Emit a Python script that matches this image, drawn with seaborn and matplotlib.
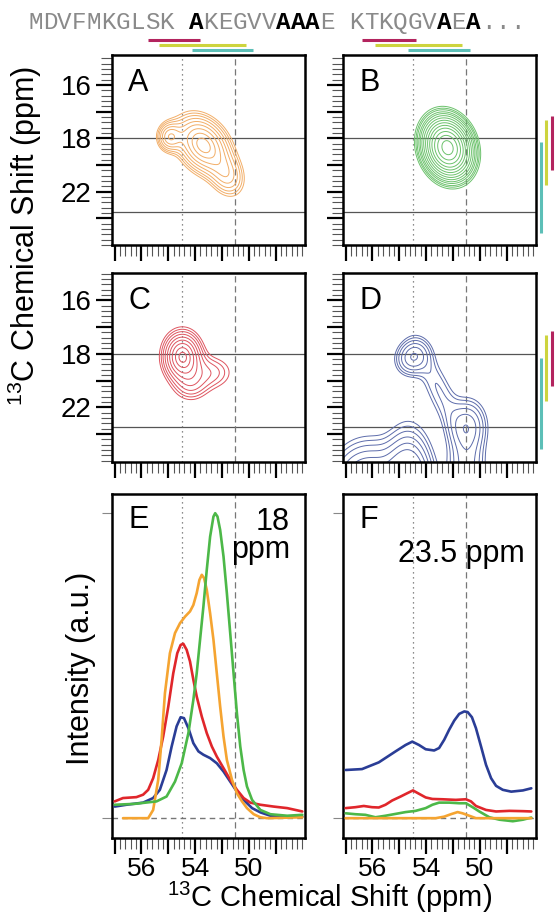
import numpy as np
import pandas as pd
import matplotlib
matplotlib.use('Agg')
import matplotlib.pyplot as plt
import matplotlib.transforms as mtransforms
from matplotlib.lines import Line2D
from matplotlib.ticker import MultipleLocator
import seaborn as sns

# --- sequence shown above the panels ---
sequence = "MDVFMKGLSK AKEGVVAAAE KTKQGVAEA..."
bold_idx = [11, 17, 18, 19, 28, 30]

# coloured bars: under the sequence (character units) and beside B / D (ppm)
bar_keys = ['helix', 'coil', 'sheet']
bar_colors = {'helix': '#b3245e', 'coil': '#cdd43e', 'sheet': '#5cbfb7'}
seq_bars = {'helix': [(8.2, 11.8), (22.9, 26.6)],
            'coil': [(9.0, 14.9), (23.8, 29.7)],
            'sheet': [(11.2, 15.4), (26.0, 30.3)]}
shift_bars = {'helix': (16.3, 20.4), 'coil': (16.6, 21.5), 'sheet': (18.3, 25.1)}

# reference lines
ca_dotted = 55.0
ca_dashed = 51.0
cb_lines = [18.0, 23.5]

# tick labels as printed on the figure
x_major = [60, 58, 56, 54, 52, 50, 48]
x_labels = ['', '56', '', '54', '', '50', '']
y_major = [14, 16, 18, 20, 22, 24]
y_labels = ['16', '', '18', '', '22', '']

# --- 2D spectra: peaks (ca, cb, width ca, width cb, correlation, amplitude) ---
peaks_A = [(53.4, 18.5, 1.15, 1.25, -0.30, 1.00),
           (55.9, 17.9, 0.55, 0.65, 0.00, 0.55),
           (51.6, 20.8, 0.80, 1.00, -0.20, 0.38)]
levels_A = [0.12, 0.16, 0.21, 0.28, 0.37, 0.48, 0.62, 0.78, 0.92]

peaks_B = [(52.4, 18.7, 1.10, 1.38, -0.15, 1.00)]
levels_B = [0.08, 0.10, 0.12, 0.15, 0.18, 0.22, 0.27, 0.33, 0.40, 0.48, 0.57, 0.68, 0.80, 0.93]

peaks_C = [(54.95, 18.2, 0.85, 1.10, 0.00, 1.00),
           (52.8, 19.4, 1.10, 0.85, 0.00, 0.27),
           (54.3, 20.4, 0.85, 0.80, 0.00, 0.26)]
levels_C = [0.13, 0.18, 0.24, 0.32, 0.42, 0.54, 0.68, 0.84, 0.97]

peaks_D = [(55.0, 18.25, 0.75, 0.80, 0.10, 1.00),
           (50.9, 23.4, 0.85, 1.20, 0.00, 0.90),
           (53.0, 20.8, 1.20, 2.30, -0.80, 0.40),
           (51.0, 26.5, 0.90, 1.50, 0.00, 0.60),
           (55.3, 28.5, 1.00, 2.40, 0.00, 2.50),
           (58.3, 28.0, 1.60, 1.90, 0.00, 1.50)]
levels_D = [0.20, 0.28, 0.39, 0.55, 0.77, 1.05]

# --- 1D slices (ppm, normalised intensity) ---
green_E_x = [60.0, 58.5, 56.88, 56.13, 55.5, 55.0, 54.5, 54.13, 53.88, 53.63, 53.38, 53.13, 52.88, 52.63,
             52.5, 52.33, 52.13, 51.88, 51.63, 51.38, 51.13, 50.88, 50.63, 50.38, 50.13, 49.75, 49.13,
             48.38, 47.13, 46.0]
green_E_y = [0.044, 0.047, 0.055, 0.071, 0.120, 0.180, 0.279, 0.388, 0.475, 0.585, 0.694, 0.814, 0.923, 0.989,
             1.0, 0.989, 0.945, 0.858, 0.738, 0.607, 0.475, 0.344, 0.235, 0.158, 0.104, 0.060, 0.027,
             0.013, 0.008, 0.011]
orange_E_x = [59.38, 57.5, 57.13, 56.75, 56.5, 56.25, 55.88, 55.5, 55.13, 54.75, 54.38, 54.13, 53.88, 53.68,
              53.5, 53.33, 53.13, 52.88, 52.63, 52.38, 52.13, 51.88, 51.63, 51.25, 50.88, 50.5, 50.13,
              49.63, 49.13, 48.63, 46.0]
orange_E_y = [0.0, 0.0, 0.027, 0.126, 0.257, 0.410, 0.541, 0.607, 0.639, 0.661, 0.678, 0.699, 0.738, 0.781,
              0.798, 0.787, 0.749, 0.672, 0.585, 0.475, 0.366, 0.268, 0.191, 0.126, 0.082, 0.055, 0.033,
              0.013, 0.003, 0.0, 0.003]
red_E_x = [60.0, 59.38, 58.38, 57.88, 57.5, 57.13, 56.75, 56.38, 56.0, 55.63, 55.33, 55.08, 54.88, 54.63,
           54.38, 54.13, 53.88, 53.5, 53.13, 52.75, 52.38, 51.88, 51.38, 50.88, 50.38, 49.88, 49.13,
           48.13, 47.13, 46.0]
red_E_y = [0.055, 0.066, 0.069, 0.077, 0.093, 0.131, 0.191, 0.268, 0.366, 0.475, 0.541, 0.568, 0.572, 0.552,
           0.514, 0.454, 0.399, 0.333, 0.279, 0.235, 0.202, 0.164, 0.126, 0.093, 0.066, 0.051, 0.044,
           0.038, 0.033, 0.022]
blue_E_x = [60.0, 59.13, 57.88, 57.13, 56.63, 56.13, 55.75, 55.38, 55.08, 54.83, 54.5, 54.13, 53.75, 53.38,
            52.88, 52.38, 51.88, 51.38, 50.88, 50.38, 49.75, 49.13, 48.38, 47.13, 46.0]
blue_E_y = [0.038, 0.044, 0.051, 0.066, 0.093, 0.158, 0.235, 0.301, 0.331, 0.328, 0.295, 0.246, 0.219, 0.208,
            0.197, 0.180, 0.153, 0.120, 0.087, 0.060, 0.033, 0.019, 0.008, 0.005, 0.005]

blue_F_x = [60.0, 58.78, 57.53, 56.28, 55.53, 55.03, 54.53, 54.03, 53.4, 53.03, 52.65, 52.28, 51.9, 51.53,
            51.15, 50.9, 50.58, 50.28, 49.9, 49.53, 49.15, 48.78, 48.28, 47.65, 46.78, 46.15]
blue_F_y = [0.158, 0.161, 0.183, 0.219, 0.240, 0.251, 0.240, 0.226, 0.222, 0.230, 0.257, 0.290, 0.320, 0.342,
            0.350, 0.348, 0.331, 0.295, 0.235, 0.175, 0.131, 0.106, 0.093, 0.087, 0.091, 0.098]
red_F_x = [60.0, 59.28, 58.65, 58.03, 57.53, 57.03, 56.53, 55.9, 55.4, 54.98, 54.53, 54.03, 53.53, 52.78,
           51.78, 51.03, 50.65, 50.28, 49.53, 48.78, 47.78, 46.78, 46.15]
red_F_y = [0.033, 0.036, 0.040, 0.036, 0.035, 0.044, 0.058, 0.071, 0.082, 0.091, 0.080, 0.068, 0.063, 0.062,
           0.060, 0.062, 0.055, 0.040, 0.027, 0.022, 0.024, 0.023, 0.022]
green_F_x = [60.0, 59.28, 58.53, 57.78, 57.03, 56.28, 55.53, 54.78, 54.03, 53.53, 53.03, 52.28, 51.53, 51.03,
             50.53, 50.03, 49.28, 48.53, 47.53, 46.78, 46.15]
green_F_y = [0.016, 0.013, 0.011, 0.003, 0.008, 0.014, 0.020, 0.024, 0.033, 0.044, 0.051, 0.051, 0.049, 0.049,
             0.036, 0.022, 0.003, -0.005, -0.010, -0.005, 0.002]
orange_F_x = [60.0, 53.28, 52.65, 52.15, 51.65, 51.28, 50.78, 50.28, 46.15]
orange_F_y = [0.0, 0.0, 0.005, 0.013, 0.020, 0.016, 0.008, 0.0, 0.0]

line_colors = {'blue': '#2a3d96', 'red': '#e0262b', 'orange': '#f5a431', 'green': '#4cb848'}
contour_colors = {'A': '#f2ae68', 'B': '#6cc26c', 'C': '#de5560', 'D': '#5d6cab'}

sns.set_theme(style='ticks')
plt.rcParams['font.family'] = ['Liberation Sans', 'DejaVu Sans']
plt.rcParams['mathtext.default'] = 'regular'
plt.rcParams['text.color'] = 'black'
plt.rcParams['xtick.labelcolor'] = 'black'
plt.rcParams['ytick.labelcolor'] = 'black'

W, H = 558, 914
fig = plt.figure(figsize=(W / 100, H / 100), dpi=100)


def px_axes(l, t, r, b):
    return fig.add_axes([l / W, 1 - b / H, (r - l) / W, (b - t) / H])


axA = px_axes(112, 55, 305, 245)
axB = px_axes(343, 55, 536, 245)
axC = px_axes(112, 273, 305, 462)
axD = px_axes(343, 273, 536, 462)
axE = px_axes(112, 494, 305, 838)
axF = px_axes(343, 494, 536, 838)

xs = np.linspace(45.8, 60.2, 400)
ys = np.linspace(11.7, 26.2, 400)
X, Y = np.meshgrid(xs, ys)


def peak_map(peaks):
    Z = np.zeros_like(X)
    for x0, y0, sx, sy, rho, amp in peaks:
        dx = (X - x0) / sx
        dy = (Y - y0) / sy
        Z += amp * np.exp(-0.5 * (dx ** 2 - 2 * rho * dx * dy + dy ** 2) / (1 - rho ** 2))
    return Z


def style_x(ax, labels):
    ax.set_xlim(60.2, 45.8)
    ax.set_xticks(x_major, labels if labels else [''] * len(x_major))
    ax.xaxis.set_minor_locator(MultipleLocator(0.4))
    for s in ax.spines.values():
        s.set_linewidth(1.8)
        s.set_color('black')
    ax.tick_params(axis='x', which='major', direction='out', length=11.5, width=1.6,
                   color='black', labelcolor='black', labelsize=19, pad=2)
    ax.tick_params(axis='x', which='minor', direction='out', length=8, width=0.8, color='#555555')


def style_2d(ax, ylim, labels):
    style_x(ax, None)
    ax.set_ylim(*ylim)
    ax.set_yticks(y_major, y_labels if labels else [''] * len(y_major))
    ax.yaxis.set_minor_locator(MultipleLocator(0.4))
    ax.tick_params(axis='y', which='major', direction='out', length=11.5, width=1.6,
                   color='black', labelcolor='black', labelsize=20, pad=3)
    ax.tick_params(axis='y', which='minor', direction='out', length=8, width=0.8, color='#555555')
    for yv in cb_lines:
        ax.axhline(yv, color='#555555', lw=0.9, zorder=1)
    ax.axvline(ca_dotted, color='#666666', lw=0.9, ls=(0, (1, 3)), zorder=1)
    ax.axvline(ca_dashed, color='#777777', lw=0.9, ls=(0, (5, 3)), zorder=1)


panels_2d = [(axA, peaks_A, levels_A, 'A', (26.0, 11.75), True),
             (axB, peaks_B, levels_B, 'B', (26.0, 11.75), False),
             (axC, peaks_C, levels_C, 'C', (26.1, 11.95), True),
             (axD, peaks_D, levels_D, 'D', (26.1, 11.95), False)]
for ax, peaks, levels, letter, ylim, lab in panels_2d:
    ax.contour(X, Y, peak_map(peaks), levels=levels, colors=contour_colors[letter],
               linewidths=0.7, zorder=2)
    style_2d(ax, ylim, lab)
    ax.text(0.085, 0.81, letter, transform=ax.transAxes, fontsize=22, ha='left', va='baseline')

# bars beside B and D
for ax in (axB, axD):
    trans = mtransforms.blended_transform_factory(ax.transAxes, ax.transData)
    for key, xa in zip(bar_keys, [1.081, 1.052, 1.025]):
        lo, hi = shift_bars[key]
        ax.plot([xa, xa], [lo, hi], color=bar_colors[key], lw=2.2, transform=trans,
                clip_on=False, solid_capstyle='butt')

# 1D slices
slices = {
    'E': [('blue', blue_E_x, blue_E_y), ('red', red_E_x, red_E_y),
          ('orange', orange_E_x, orange_E_y), ('green', green_E_x, green_E_y)],
    'F': [('blue', blue_F_x, blue_F_y), ('red', red_F_x, red_F_y),
          ('green', green_F_x, green_F_y), ('orange', orange_F_x, orange_F_y)],
}
for ax, letter in ((axE, 'E'), (axF, 'F')):
    rows = []
    for name, xv, yv in slices[letter]:
        rows += [{'ppm': a, 'intensity': b, 'sample': name} for a, b in zip(xv, yv)]
    df = pd.DataFrame(rows)
    ax.axhline(0, color='#777777', lw=1.0, ls=(0, (4, 3)), zorder=1)
    ax.axvline(ca_dotted, color='#666666', lw=0.9, ls=(0, (1, 3)), zorder=1)
    ax.axvline(ca_dashed, color='#777777', lw=0.9, ls=(0, (5, 3)), zorder=1)
    sns.lineplot(data=df, x='ppm', y='intensity', hue='sample', palette=line_colors,
                 estimator=None, sort=True, lw=1.9, legend=False, ax=ax, zorder=3)
    style_x(ax, x_labels)
    ax.set_ylim(-0.065, 1.063)
    ax.set_yticks([0, 1], ['', ''])
    ax.tick_params(axis='y', which='major', direction='out', length=7, width=0.8, color='#888888')
    ax.set_xlabel('')
    ax.set_ylabel('')
    ax.text(0.085, 0.902, letter, transform=ax.transAxes, fontsize=22, ha='left', va='baseline')

axE.text(0.922, 0.895, '18', transform=axE.transAxes, fontsize=22, ha='right', va='baseline')
axE.text(0.922, 0.814, 'ppm', transform=axE.transAxes, fontsize=22, ha='right', va='baseline')
axF.text(0.943, 0.802, '23.5 ppm', transform=axF.transAxes, fontsize=22, ha='right', va='baseline')

# axis titles
fig.text(25 / W, 1 - 236 / H, r'$^{13}$C Chemical Shift (ppm)', rotation=90, fontsize=22,
         ha='center', va='center')
fig.text(81 / W, 1 - 668 / H, 'Intensity (a.u.)', rotation=90, fontsize=22, ha='center', va='center')
fig.text(330 / W, 1 - 907 / H, r'$^{13}$C Chemical Shift (ppm)', fontsize=21, ha='center', va='baseline')

# sequence
cw, x0 = 14.6, 28
for i, ch in enumerate(sequence):
    bold = i in bold_idx
    fig.text((x0 + (i + 0.5) * cw) / W, 1 - 29 / H, ch, ha='center', va='baseline',
             family='Liberation Mono', fontsize=17.5,
             color='black' if bold else '#8a8a8a', weight='bold' if bold else 'normal')
for key, ypx in zip(bar_keys, [40, 44.7, 50]):
    for c0, c1 in seq_bars[key]:
        fig.add_artist(Line2D([(x0 + c0 * cw) / W, (x0 + c1 * cw) / W], [1 - ypx / H] * 2,
                              transform=fig.transFigure, color=bar_colors[key], lw=2.2,
                              solid_capstyle='butt'))

fig.savefig('out.png', dpi=100)
